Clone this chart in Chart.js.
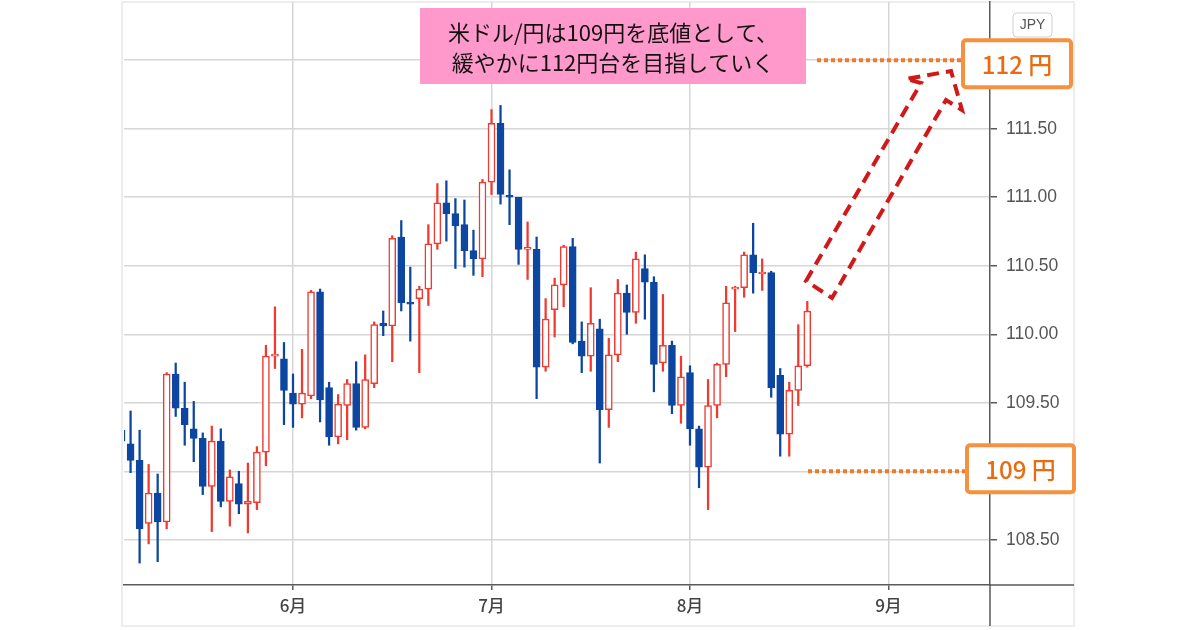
<!DOCTYPE html>
<html lang="ja">
<head>
<meta charset="utf-8">
<title>米ドル/円 日足</title>
<script src="https://cdn.jsdelivr.net/npm/chart.js@4.4.1/dist/chart.umd.min.js"></script>
<style>
  html, body { margin: 0; padding: 0; background: #ffffff; }
  #wrap { width: 1200px; height: 630px; }
</style>
</head>
<body>
<div id="wrap"><canvas id="chart" width="1200" height="630"></canvas></div>
<script>
// Daily USD/JPY candles (2021). The first one sits half outside the plot.
const dates = [
  '5/5', '5/6', '5/7', '5/10', '5/11', '5/12', '5/13', '5/14', '5/17', '5/18', '5/19', '5/20', '5/21',
  '5/24', '5/25', '5/26', '5/27', '5/28', '5/31',
  '6/1', '6/2', '6/3', '6/4', '6/7', '6/8', '6/9', '6/10', '6/11', '6/14', '6/15', '6/16', '6/17', '6/18',
  '6/21', '6/22', '6/23', '6/24', '6/25', '6/28', '6/29', '6/30',
  '7/1', '7/2', '7/5', '7/6', '7/7', '7/8', '7/9', '7/12', '7/13', '7/14', '7/15', '7/16', '7/19', '7/20',
  '7/21', '7/22', '7/23', '7/26', '7/27', '7/28', '7/29', '7/30',
  '8/2', '8/3', '8/4', '8/5', '8/6', '8/9', '8/10', '8/11', '8/12', '8/13', '8/16', '8/17', '8/18', '8/19'
];
const opens = [
  109.30, 109.20, 109.08, 108.62, 108.84, 108.63, 109.71, 109.46, 109.31, 109.24, 108.89, 109.22, 108.78,
  108.91, 108.76, 108.77, 109.14, 109.84, 109.82,
  109.57, 109.49, 109.55, 110.31, 109.61, 109.25, 109.48, 109.64, 109.32, 109.64, 110.08, 110.06, 110.71, 110.23,
  110.26, 110.33, 110.66, 110.96, 110.88, 110.80, 110.61, 110.55,
  111.11, 111.54, 111.01, 111.00, 110.62, 110.62, 109.76, 110.18, 110.36, 110.64, 109.95, 109.84, 110.04, 109.45,
  109.85, 110.30, 110.16, 110.48, 110.38, 109.79, 109.92, 109.48,
  109.72, 109.31, 109.03, 109.48, 109.78, 110.33, 110.34, 110.58, 110.44, 110.45, 109.70, 109.27, 109.59, 109.77
];
const highs = [
  109.34, 109.44, 109.30, 109.05, 108.98, 109.72, 109.79, 109.65, 109.51, 109.28, 109.33, 109.31, 109.01,
  109.00, 109.06, 109.18, 109.92, 110.20, 109.94,
  109.71, 109.89, 110.32, 110.33, 109.65, 109.56, 109.67, 109.80, 109.85, 110.09, 110.17, 110.72, 110.83, 110.49,
  110.35, 110.80, 111.10, 111.12, 110.99, 110.98, 110.76, 111.13,
  111.64, 111.67, 111.20, 111.00, 110.82, 110.71, 110.26, 110.41, 110.65, 110.70, 110.09, 110.34, 110.11, 109.97,
  110.40, 110.36, 110.60, 110.58, 110.42, 110.29, 109.95, 109.84,
  109.77, 109.33, 109.67, 109.79, 110.35, 110.35, 110.60, 110.81, 110.55, 110.46, 109.75, 109.65, 110.07, 110.24
];
const lows = [
  109.19, 108.99, 108.33, 108.47, 108.34, 108.58, 109.40, 109.19, 109.07, 108.83, 108.56, 108.74, 108.60,
  108.69, 108.55, 108.72, 109.04, 109.75, 109.34,
  109.32, 109.39, 109.53, 109.36, 109.19, 109.20, 109.23, 109.30, 109.31, 109.61, 109.99, 109.80, 110.17, 109.95,
  109.72, 110.21, 110.62, 110.68, 110.48, 110.49, 110.43, 110.42,
  111.02, 110.95, 110.80, 110.51, 110.40, 109.53, 109.73, 109.98, 110.20, 109.93, 109.72, 109.73, 109.06, 109.32,
  109.80, 110.00, 110.08, 110.11, 109.58, 109.73, 109.42, 109.35,
  109.19, 108.88, 108.72, 109.39, 109.69, 110.02, 110.27, 110.30, 110.32, 109.54, 109.11, 109.11, 109.48, 109.76
];
const closes = [
  109.22, 109.08, 108.58, 108.84, 108.63, 109.71, 109.46, 109.34, 109.24, 108.89, 109.22, 108.78, 108.96,
  108.76, 108.78, 109.14, 109.84, 109.85, 109.59,
  109.49, 109.57, 110.31, 109.52, 109.25, 109.49, 109.64, 109.32, 109.67, 110.07, 110.06, 110.70, 110.23, 110.22,
  110.33, 110.66, 110.96, 110.88, 110.79, 110.61, 110.55, 111.11,
  111.54, 111.02, 111.00, 110.62, 110.63, 109.76, 110.11, 110.36, 110.64, 109.94, 109.84, 110.08, 109.45, 109.85,
  110.30, 110.16, 110.55, 110.38, 109.78, 109.92, 109.48, 109.69,
  109.31, 109.03, 109.48, 109.78, 110.23, 110.34, 110.58, 110.45, 110.45, 109.61, 109.27, 109.59, 109.77, 110.17
];
const firstIndex = -1; // trading-day number of dates[0]

const monthTicks = [18, 40, 62, 84];   // first trading day of each month
const monthLabels = ['6月', '7月', '8月', '9月'];
const priceTicks = [108.5, 109, 109.5, 110, 110.5, 111, 111.5, 112];

const targetHigh = 112;
const targetLow = 109;

const UP = '#f0392f';
const DOWN = '#0c46a0';
const CJK = '"Noto Sans CJK JP", "Noto Sans", sans-serif';

const isUp = closes.map((c, i) => c >= opens[i]);
const wicks = dates.map((d, i) => ({ x: firstIndex + i, y: [lows[i], highs[i]] }));
const bodies = dates.map((d, i) => ({ x: firstIndex + i, y: [opens[i], closes[i]] }));

function dotted(ctx, x1, x2, y) {
    ctx.save();
    ctx.strokeStyle = '#ee7a2c';
    ctx.lineWidth = 4;
    ctx.setLineDash([4, 3]);
    ctx.beginPath();
    ctx.moveTo(x1, y);
    ctx.lineTo(x2, y);
    ctx.stroke();
    ctx.restore();
}

function priceBox(ctx, x, y, w, h, text) {
    ctx.save();
    ctx.fillStyle = '#ffffff';
    ctx.strokeStyle = '#f5913f';
    ctx.lineWidth = 4;
    ctx.beginPath();
    ctx.roundRect(x, y, w, h, 3);
    ctx.fill();
    ctx.stroke();
    ctx.fillStyle = '#e96c12';
    ctx.font = '500 24px ' + CJK;
    ctx.textAlign = 'center';
    ctx.textBaseline = 'middle';
    ctx.fillText(text, x + w / 2, y + h / 2 + 1);
    ctx.restore();
}

// no extra room for the edge labels, the plot area is placed by hand
function noEdgePadding(scale) {
    scale.paddingTop = 0;
    scale.paddingBottom = 0;
    scale.paddingLeft = 0;
    scale.paddingRight = 0;
}

const annotations = {
    id: 'annotations',
    beforeDraw(chart) {
        const ctx = chart.ctx;
        ctx.save();
        ctx.fillStyle = '#ffffff';
        ctx.fillRect(0, 0, chart.width, chart.height);
        ctx.strokeStyle = '#e8e8ec';
        ctx.lineWidth = 1.5;
        ctx.strokeRect(122, 2, 952, 624);
        ctx.restore();
    },
    afterDraw(chart) {
        const ctx = chart.ctx;
        const area = chart.chartArea;
        const y = chart.scales.y;

        // axis lines run on to the frame
        ctx.save();
        ctx.strokeStyle = '#5a5a5a';
        ctx.lineWidth = 1.5;
        ctx.beginPath();
        ctx.moveTo(area.right, area.bottom);
        ctx.lineTo(area.right, 626);
        ctx.moveTo(area.right, area.bottom);
        ctx.lineTo(1074, area.bottom);
        ctx.stroke();

        // currency badge
        ctx.strokeStyle = '#d0d0d0';
        ctx.lineWidth = 1;
        ctx.beginPath();
        ctx.roundRect(1013, 13, 39, 24, 4);
        ctx.stroke();
        ctx.fillStyle = '#555555';
        ctx.font = '14px "Liberation Sans", Arial, sans-serif';
        ctx.textAlign = 'center';
        ctx.textBaseline = 'middle';
        ctx.fillText('JPY', 1032.5, 25.5);

        // comment box
        ctx.fillStyle = '#ff99cc';
        ctx.fillRect(420, 8, 386, 76);
        ctx.fillStyle = '#111111';
        ctx.font = '22px ' + CJK;
        ctx.fillText('米ドル/円は109円を底値として、', 613, 33);
        ctx.fillText('緩やかに112円台を目指していく', 613, 63);
        ctx.restore();

        // target lines and labels
        const yHigh = y.getPixelForValue(targetHigh);
        const yLow = y.getPixelForValue(targetLow);
        dotted(ctx, 817, 963, yHigh);
        dotted(ctx, 808, 967, yLow);
        priceBox(ctx, 963, yHigh - 20, 108, 47, targetHigh + ' 円');
        priceBox(ctx, 967, yLow - 26, 107, 47, targetLow + ' 円');

        // hollow dashed arrow pointing up-right
        ctx.save();
        ctx.strokeStyle = '#d01a1a';
        ctx.lineWidth = 4;
        ctx.setLineDash([12, 7]);
        ctx.lineJoin = 'miter';
        ctx.beginPath();
        ctx.moveTo(806, 281);
        ctx.lineTo(921, 83);
        ctx.lineTo(906, 79);
        ctx.lineTo(951, 71);
        ctx.lineTo(962, 110);
        ctx.lineTo(946, 100);
        ctx.lineTo(832, 298);
        ctx.closePath();
        ctx.stroke();
        ctx.restore();
    }
};

new Chart(document.getElementById('chart'), {
    type: 'bar',
    data: {
        datasets: [{
            label: 'wick',
            data: wicks,
            backgroundColor: isUp.map(u => u ? UP : DOWN),
            borderWidth: 0,
            barThickness: 1.6,
            order: 2,
            clip: 0
        }, {
            label: 'body',
            data: bodies,
            backgroundColor: isUp.map(u => u ? '#ffffff' : DOWN),
            borderColor: isUp.map(u => u ? UP : DOWN),
            borderWidth: 1.5,
            borderSkipped: false,
            barThickness: 7,
            minBarLength: 2,
            order: 1,
            clip: 0
        }]
    },
    options: {
        responsive: false,
        animation: false,
        layout: { padding: { left: 124, top: 2, right: 126, bottom: 5 } },
        datasets: { bar: { grouped: false } },
        plugins: {
            legend: { display: false },
            tooltip: { enabled: false }
        },
        scales: {
            x: {
                type: 'linear',
                min: -0.73,
                max: 95.25,
                offset: false,
                afterBuildTicks: scale => { scale.ticks = monthTicks.map(v => ({ value: v })); },
                afterFit: scale => { scale.height = 40; noEdgePadding(scale); },
                grid: {
                    offset: false,
                    color: '#d6d6d6',
                    lineWidth: 1.5,
                    tickLength: 5,
                    tickColor: '#5a5a5a'
                },
                border: { color: '#5a5a5a', width: 1.5 },
                ticks: {
                    padding: 5,
                    color: '#444444',
                    font: { family: CJK, size: 17, weight: '500' },
                    callback: v => monthLabels[monthTicks.indexOf(v)]
                }
            },
            y: {
                position: 'right',
                min: 108.17,
                max: 112.425,
                afterBuildTicks: scale => { scale.ticks = priceTicks.map(v => ({ value: v })); },
                afterFit: scale => { scale.width = 84; noEdgePadding(scale); },
                grid: {
                    color: '#d6d6d6',
                    lineWidth: 1.5,
                    tickLength: 7,
                    tickColor: '#5a5a5a'
                },
                border: { color: '#5a5a5a', width: 1.5 },
                ticks: {
                    padding: 9,
                    color: '#555555',
                    font: { family: '"Liberation Sans", Arial, sans-serif', size: 17.5 },
                    callback: v => Number(v).toFixed(2)
                }
            }
        }
    },
    plugins: [annotations]
});
</script>
</body>
</html>
